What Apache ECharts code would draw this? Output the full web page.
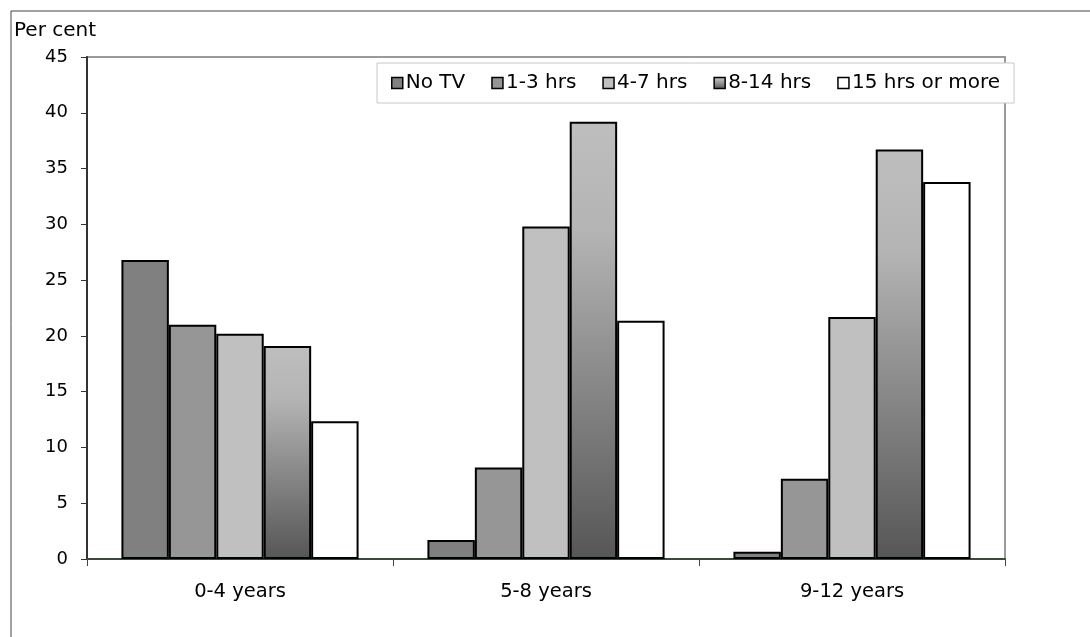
<!DOCTYPE html>
<html>
<head>
<meta charset="utf-8">
<script src="https://cdn.jsdelivr.net/npm/echarts@6/dist/echarts.min.js"></script>
<style>
html,body{margin:0;padding:0;background:#fff;}
#chart{width:1090px;height:637px;}
</style>
</head>
<body>
<div id="chart"></div>
<script>
var categories = ['0-4 years', '5-8 years', '9-12 years'];
var seriesNames = ['No TV', '1-3 hrs', '4-7 hrs', '8-14 hrs', '15 hrs or more'];
var noTV = [26.8, 1.7, 0.65];
var hrs1to3 = [21.0, 8.2, 7.2];
var hrs4to7 = [20.2, 29.8, 21.7];
var hrs8to14 = [19.1, 39.2, 36.7];
var hrs15plus = [12.35, 21.35, 33.8];
var yTicks = {min: 0, max: 45, interval: 5};

var FONT = 'DejaVu Sans';
var gradient = {
  type: 'linear', x: 0, y: 0, x2: 0, y2: 1,
  colorStops: [
    {offset: 0, color: '#bebebe'},
    {offset: 0.25, color: '#b4b4b4'},
    {offset: 0.55, color: '#8e8e8e'},
    {offset: 1, color: '#565656'}
  ]
};
var fills = ['#808080', '#969696', '#c0c0c0', gradient, '#ffffff'];
var values = [noTV, hrs1to3, hrs4to7, hrs8to14, hrs15plus];

var series = seriesNames.map(function (name, i) {
  return {
    name: name,
    type: 'bar',
    data: values[i],
    barGap: '0%',
    barCategoryGap: '22.5%',
    itemStyle: {color: fills[i], borderColor: '#000', borderWidth: 2},
    emphasis: {disabled: true}
  };
});

var chart = echarts.init(document.getElementById('chart'), null, {renderer: 'canvas'});
chart.setOption({
  animation: false,
  backgroundColor: '#fff',
  textStyle: {fontFamily: FONT},
  grid: {
    left: 87, right: 85, top: 57, bottom: 78,
    show: true, borderColor: '#9a9a9a', borderWidth: 2, backgroundColor: 'transparent'
  },
  graphic: [
    {type: 'rect', shape: {x: 11, y: 11, width: 2000, height: 2000},
     style: {fill: 'none', stroke: '#444', lineWidth: 1}, silent: true, z: -1},
    {type: 'text', left: 14, top: 21,
     style: {text: 'Per cent', fontFamily: FONT, fontSize: 20, fill: '#000'}}
  ],
  legend: {
    data: seriesNames,
    left: 377, top: 63,
    icon: 'rect',
    itemWidth: 11, itemHeight: 11,
    itemGap: 26,
    padding: [10, 14, 10, 14],
    backgroundColor: '#fff',
    borderColor: '#c8c8c8', borderWidth: 1,
    itemStyle: {borderColor: '#000', borderWidth: 1.5},
    textStyle: {fontFamily: FONT, fontSize: 20, color: '#000', padding: [0, 0, 0, -2]},
    selectedMode: false
  },
  xAxis: {
    type: 'category',
    data: categories,
    axisLine: {lineStyle: {color: '#3c4a3c', width: 2}},
    axisTick: {show: true, alignWithLabel: false, length: 7, interval: 0, lineStyle: {color: '#3c4a3c', width: 1}},
    axisLabel: {fontFamily: FONT, fontSize: 19.5, color: '#000', margin: 23}
  },
  yAxis: {
    type: 'value',
    min: yTicks.min, max: yTicks.max, interval: yTicks.interval,
    splitLine: {show: false},
    axisLine: {show: true, lineStyle: {color: '#333', width: 2}},
    axisTick: {show: true, length: 6, lineStyle: {color: '#333', width: 1}},
    axisLabel: {fontFamily: FONT, fontSize: 18, color: '#000', margin: 19}
  },
  series: series
});
</script>
</body>
</html>
